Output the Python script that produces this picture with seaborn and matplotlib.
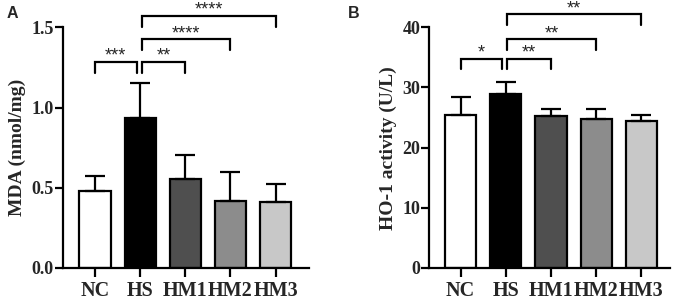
import seaborn as sns
import numpy as np
import matplotlib.pyplot as plt

groups = ["NC", "HS", "HM1", "HM2", "HM3"]
bar_colors = ["#ffffff", "#000000", "#4f4f4f", "#8c8c8c", "#c8c8c8"]

mda_mean = [0.48, 0.935, 0.553, 0.418, 0.41]
mda_sd = [0.095, 0.215, 0.153, 0.18, 0.114]
mda_sig = [(0, 1, 1.286, "***"), (1, 2, 1.286, "**"), (1, 3, 1.428, "****"), (1, 4, 1.573, "****")]

ho1_mean = [25.5, 28.85, 25.25, 24.8, 24.4]
ho1_sd = [2.85, 2.05, 1.25, 1.55, 1.1]
ho1_sig = [(0, 1, 34.8, "*"), (1, 2, 34.8, "**"), (1, 3, 38.0, "**"), (1, 4, 42.2, "**")]


def panel(ax, means, sds, sig, ylim, yticks, fmt, ylabel, xlim, drop):
    sns.barplot(ax=ax, x=groups, y=means, hue=groups, palette=bar_colors, legend=False,
                width=0.69, edgecolor="black", linewidth=1.6, saturation=1)
    x = np.arange(len(groups))
    ax.errorbar(x, means, yerr=[np.zeros(len(means)), sds], fmt="none", ecolor="black",
                elinewidth=1.6, capsize=7, capthick=1.6, zorder=1)
    ax.set_ylim(*ylim)
    ax.set_xlim(*xlim)
    ax.set_yticks(yticks)
    ax.set_yticklabels([fmt % t for t in yticks])
    ax.set_ylabel(ylabel, fontsize=14, fontweight="bold", labelpad=4)
    for s in ["top", "right"]:
        ax.spines[s].set_visible(False)
    for s in ["left", "bottom"]:
        ax.spines[s].set_linewidth(1.6)
        ax.spines[s].set_color("black")
    ax.tick_params(axis="y", left=True, length=5.5, width=1.6, labelsize=13, pad=1,
                   direction="out", color="black")
    ax.tick_params(axis="x", bottom=True, length=6.5, width=1.6, labelsize=14.5, pad=3,
                   direction="out", color="black")
    for lab in ax.get_xticklabels() + ax.get_yticklabels():
        lab.set_fontweight("bold")
    for a, b, h, stars in sig:
        xa = a if a != 1 else a + 0.03
        xb = b if b != 1 else b - 0.08
        ax.plot([xa, xa, xb, xb], [h - drop, h, h, h - drop], color="black", lw=1.6,
                clip_on=False, solid_joinstyle="miter")
        ax.annotate(stars, xy=((xa + xb) / 2, h), xytext=(0, 0.5), textcoords="offset points",
                    ha="center", va="baseline", fontsize=13, family="Liberation Sans",
                    annotation_clip=False)


sns.set_theme(style="white")
plt.rcParams["font.family"] = ["Liberation Serif", "DejaVu Serif"]

fig = plt.figure(figsize=(6.75, 3.02), dpi=100)
ax1 = fig.add_axes([63 / 675, 1 - 268 / 302, 246 / 675, 240.7 / 302])
ax2 = fig.add_axes([429.3 / 675, 1 - 268 / 302, 240.7 / 675, 240.7 / 302])

panel(ax1, mda_mean, mda_sd, mda_sig, (0, 1.5), [0, 0.5, 1.0, 1.5], "%.1f",
      "MDA (nmol/mg)", (-0.71, 4.74), 0.07)
panel(ax2, ho1_mean, ho1_sd, ho1_sig, (0, 40), [0, 10, 20, 30, 40], "%d",
      "HO-1 activity (U/L)", (-0.69, 4.63), 1.8)

fig.text(7 / 675, 1 - 6 / 302, "A", fontsize=11.5, fontweight="bold", family="Liberation Sans",
         ha="left", va="top")
fig.text(348 / 675, 1 - 6 / 302, "B", fontsize=11.5, fontweight="bold", family="Liberation Sans",
         ha="left", va="top")

plt.savefig("out.png", dpi=100)
